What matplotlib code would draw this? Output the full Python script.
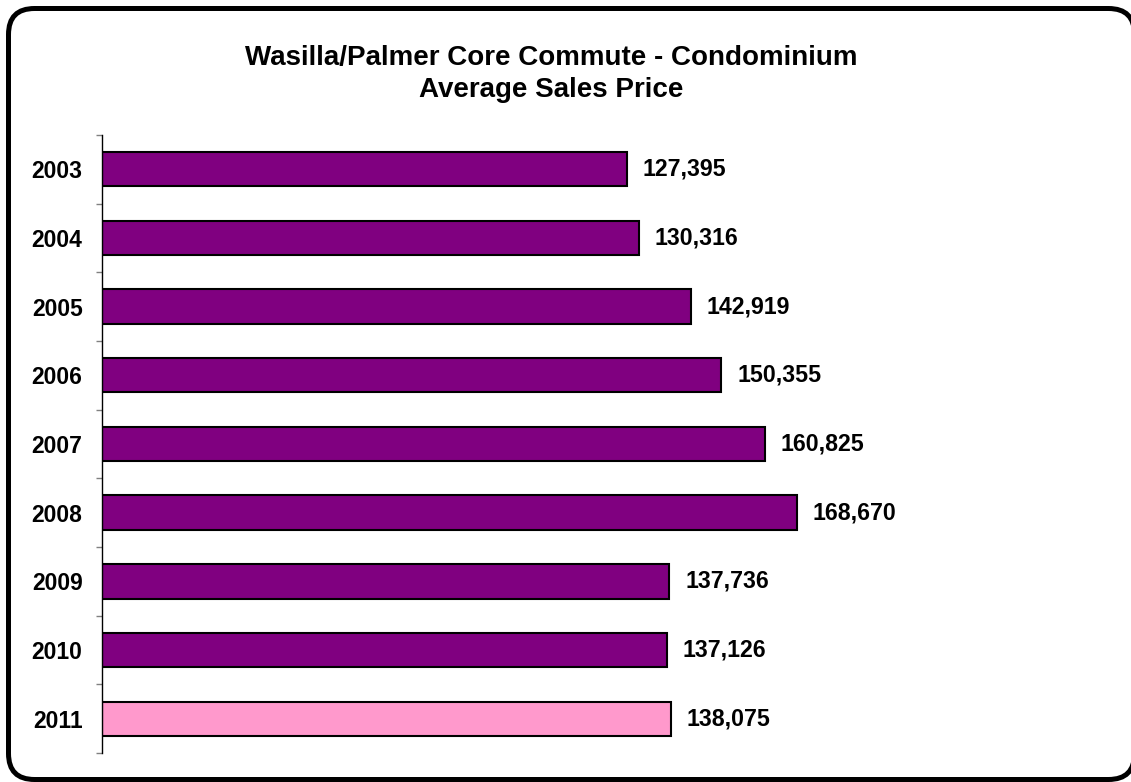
import matplotlib
matplotlib.use("Agg")
import matplotlib.pyplot as plt
from matplotlib.patches import FancyBboxPatch
import numpy as np

years = ["2003", "2004", "2005", "2006", "2007", "2008", "2009", "2010", "2011"]
avg_price = [127395, 130316, 142919, 150355, 160825, 168670, 137736, 137126, 138075]
bar_colors = ["#800080"] * 8 + ["#FF99CC"]

title_lines = ["Wasilla/Palmer Core Commute - Condominium", "Average Sales Price"]

plt.rcParams["font.family"] = ["Liberation Sans", "DejaVu Sans"]

W, H = 1131, 782
fig = plt.figure(figsize=(W / 100, H / 100), dpi=100)

# Rounded frame drawn in pixel space
bg = fig.add_axes([0, 0, 1, 1], zorder=0)
bg.set_xlim(0, W)
bg.set_ylim(H, 0)
bg.axis("off")
frame = FancyBboxPatch((8.5, 8.5), 1126, 771,
                       boxstyle="round,pad=0,rounding_size=26",
                       facecolor="white", edgecolor="black", linewidth=3.6,
                       clip_on=False)
bg.add_patch(frame)

# Title
bg.text(551, 58, title_lines[0], ha="center", va="center",
        fontsize=20, fontweight="bold")
bg.text(551, 90, title_lines[1], ha="center", va="center",
        fontsize=20, fontweight="bold")

# Bar chart area
left, right, top, bottom = 102, 926, 135, 753
ax = fig.add_axes([left / W, (H - bottom) / H, (right - left) / W, (bottom - top) / H],
                  zorder=1)
ax.patch.set_alpha(0)

y = np.arange(len(years))
bars = ax.barh(y, avg_price, height=0.5, color=bar_colors,
               edgecolor="black", linewidth=1.5)

ax.set_xlim(0, 200000)
ax.set_ylim(len(years) - 0.5, -0.5)

for yi, v in zip(y, avg_price):
    ax.annotate(f"{v:,}", xy=(v, yi), xytext=(11.5, 0), textcoords="offset points",
                ha="left", va="center", fontsize=16.7, fontweight="bold",
                clip_on=False)

for s in ["top", "right", "bottom"]:
    ax.spines[s].set_visible(False)
ax.spines["left"].set_color("black")
ax.spines["left"].set_linewidth(1.0)

ax.set_xticks([])
ax.set_yticks(y)
ax.set_yticklabels(years, fontsize=16.5, fontweight="bold")
ax.tick_params(axis="y", which="major", length=0, pad=14)
ax.set_yticks(np.arange(-0.5, len(years), 1.0), minor=True)
ax.tick_params(axis="y", which="minor", length=4.5, width=1.0, color="#808080",
               direction="out")

fig.savefig("out.png", dpi=100)
